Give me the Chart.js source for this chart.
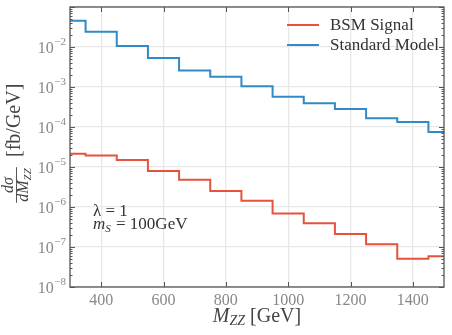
<!DOCTYPE html>
<html>
<head>
<meta charset="utf-8">
<script src="https://cdn.jsdelivr.net/npm/chart.js@4.4.0/dist/chart.umd.min.js"></script>
<style>
  body { margin: 0; background: #fff; }
  canvas { display: block; }
</style>
</head>
<body>
<canvas id="myChart" width="452" height="335"></canvas>
<script>
// bin edges of the M_ZZ histogram (GeV), last bin is cut at 1500
const binEdges = [300, 350, 450, 550, 650, 750, 850, 950, 1050, 1150, 1250, 1350, 1450, 1500];
// dsigma/dM_ZZ per bin [fb/GeV]
const bsmValues = [2.15e-5, 1.95e-5, 1.5e-5, 7.9e-6, 4.8e-6, 2.5e-6, 1.44e-6, 6.9e-7, 3.9e-7, 2.1e-7, 1.17e-7, 5.1e-8, 5.9e-8];
const smValues = [4.5e-2, 2.4e-2, 1.06e-2, 5.3e-3, 2.6e-3, 1.8e-3, 1.04e-3, 5.7e-4, 3.9e-4, 2.8e-4, 1.65e-4, 1.33e-4, 7.5e-5];
const seriesNames = ['BSM Signal', 'Standard Model'];
const xTicks = [400, 600, 800, 1000, 1200, 1400];
const yExponents = [-8, -7, -6, -5, -4, -3, -2, -1];
const yLabelExponents = [-8, -7, -6, -5, -4, -3, -2];

const SERIF = '"Liberation Serif", "DejaVu Serif", serif';
const RED = '#e5533c';
const BLUE = '#2f8ac6';

// each bin starts at its left edge, one more point closes the last bin
function stepPoints(values) {
  var pts = values.map((v, i) => ({x: binEdges[i], y: v}));
  pts.push({x: binEdges[binEdges.length - 1], y: values[values.length - 1]});
  return pts;
}

const decorations = {
  id: 'decorations',
  afterDraw(chart) {
    const ctx = chart.ctx;
    const a = chart.chartArea;
    const xs = chart.scales.x, ys = chart.scales.y;
    ctx.save();

    // frame
    ctx.strokeStyle = '#555';
    ctx.lineWidth = 1.3;
    ctx.strokeRect(a.left, a.top, a.right - a.left, a.bottom - a.top);

    // inward ticks on all sides
    ctx.lineWidth = 1;
    ctx.beginPath();
    xTicks.forEach(v => {
      var px = Math.round(xs.getPixelForValue(v)) + 0.5;
      ctx.moveTo(px, a.bottom); ctx.lineTo(px, a.bottom - 5);
      ctx.moveTo(px, a.top); ctx.lineTo(px, a.top + 5);
    });
    yExponents.forEach(e => {
      for (var m = 1; m <= 9; m++) {
        var val = m * Math.pow(10, e);
        if (val > ys.max * 1.0001) continue;
        var py = Math.round(ys.getPixelForValue(val)) + 0.5;
        var len = m == 1 ? 5 : 2.5;
        ctx.moveTo(a.left, py); ctx.lineTo(a.left + len, py);
        ctx.moveTo(a.right, py); ctx.lineTo(a.right - len, py);
      }
    });
    ctx.stroke();

    // y tick labels 10^e
    ctx.fillStyle = '#888';
    ctx.textBaseline = 'middle';
    yLabelExponents.forEach(e => {
      var py = ys.getPixelForValue(Math.pow(10, e));
      var expText = '\u2212' + Math.abs(e);
      ctx.font = '11px ' + SERIF;
      var wExp = ctx.measureText(expText).width;
      ctx.textAlign = 'left';
      ctx.fillText(expText, 66 - wExp, py - 5);
      ctx.font = '16px ' + SERIF;
      ctx.textAlign = 'right';
      ctx.fillText('10', 66 - wExp - 0.5, py + 1.5);
    });

    // x axis title: M_ZZ [GeV]
    ctx.fillStyle = '#444';
    ctx.textAlign = 'left';
    ctx.textBaseline = 'alphabetic';
    ctx.font = 'italic 20px ' + SERIF;
    var wM = ctx.measureText('M').width;
    ctx.font = 'italic 14px ' + SERIF;
    var wZZ = ctx.measureText('ZZ').width;
    ctx.font = '20px ' + SERIF;
    var wRest = ctx.measureText(' [GeV]').width;
    var x0 = (a.left + a.right) / 2 - (wM + wZZ + wRest) / 2;
    var base = 322;
    ctx.font = 'italic 20px ' + SERIF;
    ctx.fillText('M', x0, base);
    ctx.font = 'italic 14px ' + SERIF;
    ctx.fillText('ZZ', x0 + wM, base + 3);
    ctx.font = '20px ' + SERIF;
    ctx.fillText(' [GeV]', x0 + wM + wZZ, base);

    // y axis title: dsigma/dM_ZZ [fb/GeV], rotated
    ctx.save();
    ctx.translate(0, 142);
    ctx.rotate(-Math.PI / 2);
    ctx.textBaseline = 'middle';
    ctx.textAlign = 'left';
    ctx.font = '20px ' + SERIF;
    ctx.fillText('[fb/GeV]', -15, 15);
    // fraction
    ctx.font = 'italic 16px ' + SERIF;
    var wDM = ctx.measureText('dM').width;
    ctx.font = 'italic 11px ' + SERIF;
    var wSub = ctx.measureText('ZZ').width;
    var wDen = wDM + wSub;
    var fc = -43;
    ctx.strokeStyle = '#444';
    ctx.lineWidth = 0.9;
    ctx.beginPath();
    ctx.moveTo(fc - wDen / 2 - 1, 16.5); ctx.lineTo(fc + wDen / 2 + 1, 16.5);
    ctx.stroke();
    ctx.textBaseline = 'alphabetic';
    ctx.font = 'italic 16px ' + SERIF;
    ctx.textAlign = 'center';
    ctx.fillText('d\u03c3', fc, 13);
    ctx.textAlign = 'left';
    ctx.fillText('dM', fc - wDen / 2, 28);
    ctx.font = 'italic 11px ' + SERIF;
    ctx.fillText('ZZ', fc - wDen / 2 + wDM, 30.5);
    ctx.restore();

    // legend
    var colors = [RED, BLUE];
    seriesNames.forEach((name, i) => {
      var ly = 25 + i * 20;
      ctx.strokeStyle = colors[i];
      ctx.lineWidth = 2;
      ctx.beginPath();
      ctx.moveTo(287, ly); ctx.lineTo(319, ly);
      ctx.stroke();
      ctx.fillStyle = '#333';
      ctx.font = '17px ' + SERIF;
      ctx.textAlign = 'left';
      ctx.textBaseline = 'middle';
      ctx.fillText(name, 330, ly + 1);
    });

    // parameter note
    ctx.fillStyle = '#333';
    ctx.textBaseline = 'alphabetic';
    ctx.font = '17px ' + SERIF;
    ctx.fillText('\u03bb = 1', 93, 216);
    ctx.font = 'italic 17px ' + SERIF;
    ctx.fillText('m', 93, 229);
    var wm = ctx.measureText('m').width;
    ctx.font = 'italic 11px ' + SERIF;
    ctx.fillText('S', 93 + wm, 232);
    var wS = ctx.measureText('S').width;
    ctx.font = '17px ' + SERIF;
    ctx.fillText(' = 100GeV', 93 + wm + wS + 1, 229);

    ctx.restore();
  }
};

var ctx = document.getElementById('myChart').getContext('2d');
var chart = new Chart(ctx, {
  type: 'line',
  data: {
    datasets: [{
      label: seriesNames[0],
      data: stepPoints(bsmValues),
      borderColor: RED,
      backgroundColor: RED,
      borderWidth: 2,
      stepped: 'before',
      pointRadius: 0,
      fill: false
    }, {
      label: seriesNames[1],
      data: stepPoints(smValues),
      borderColor: BLUE,
      backgroundColor: BLUE,
      borderWidth: 2,
      stepped: 'before',
      pointRadius: 0,
      fill: false
    }]
  },
  options: {
    responsive: false,
    animation: false,
    devicePixelRatio: 1,
    layout: { padding: { top: 7, right: 8, left: 0, bottom: 0 } },
    plugins: { legend: { display: false }, tooltip: { enabled: false } },
    scales: {
      x: {
        type: 'linear',
        min: 300,
        max: 1500,
        afterBuildTicks: (scale) => { scale.ticks = xTicks.map(v => ({value: v})); },
        afterFit: (scale) => { scale.height = 48; },
        grid: { color: '#e8e8e8', lineWidth: 1.3, drawTicks: false },
        border: { display: false },
        ticks: {
          color: '#888',
          padding: 4,
          maxRotation: 0,
          font: { family: SERIF, size: 16 },
          callback: (v) => String(v)
        }
      },
      y: {
        type: 'logarithmic',
        min: 1e-8,
        max: 1e-1,
        afterBuildTicks: (scale) => { scale.ticks = yExponents.map(e => ({value: Math.pow(10, e)})); },
        afterFit: (scale) => { scale.width = 70; },
        grid: { color: '#e8e8e8', lineWidth: 1.3, drawTicks: false },
        border: { display: false },
        ticks: { display: false }
      }
    }
  },
  plugins: [decorations]
});
</script>
</body>
</html>
